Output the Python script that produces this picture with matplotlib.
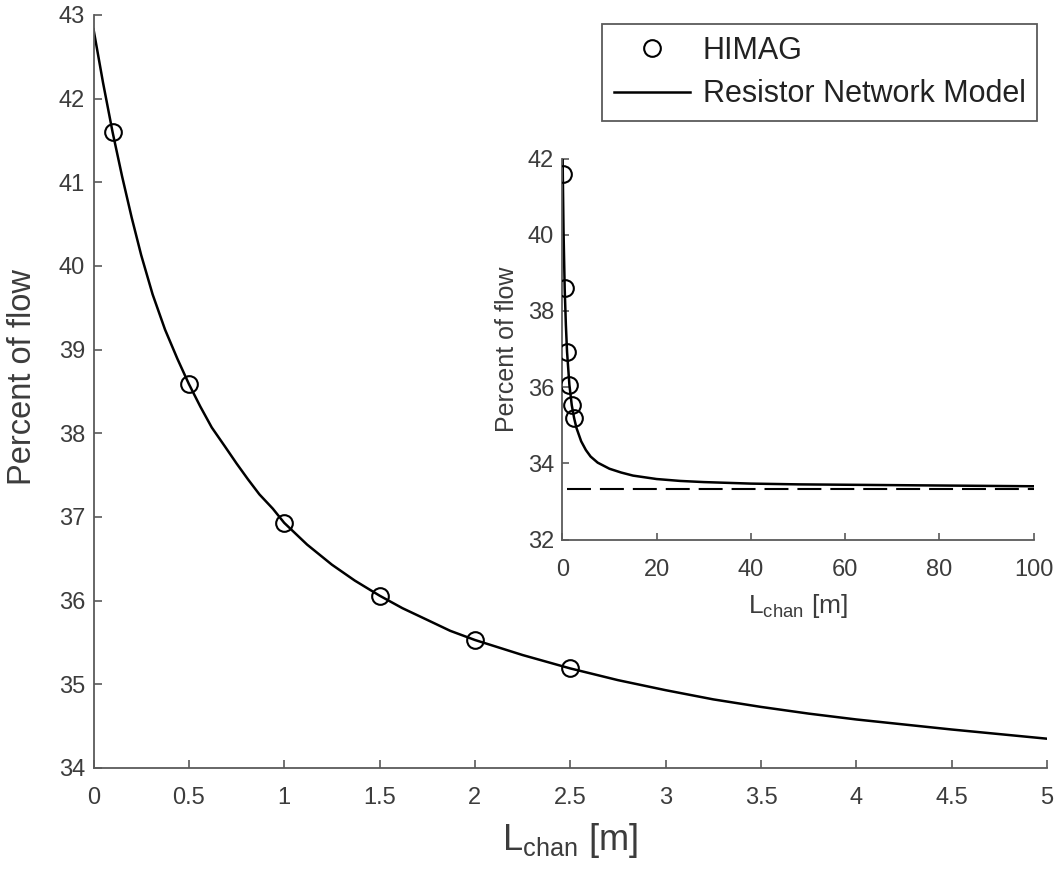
import matplotlib
matplotlib.use("Agg")
import matplotlib.pyplot as plt

plt.rcParams['font.family'] = ['Liberation Sans', 'DejaVu Sans']

# HIMAG simulation results
himag_len = [0.1, 0.5, 1.0, 1.5, 2.0, 2.5]
himag_pct = [41.60, 38.59, 36.93, 36.06, 35.53, 35.19]

# Resistor network model, short channels
model_len = [0.0, 0.05, 0.1, 0.15, 0.2, 0.25, 0.31, 0.375, 0.44, 0.5, 0.56, 0.62, 0.69, 0.75,
             0.81, 0.87, 0.94, 1.0, 1.12, 1.25, 1.37, 1.5, 1.62, 1.75, 1.87, 2.0, 2.25, 2.5,
             2.75, 3.0, 3.25, 3.5, 3.75, 4.0, 4.5, 5.0]
model_pct = [42.83, 42.19, 41.60, 41.07, 40.58, 40.13, 39.66, 39.24, 38.89, 38.59, 38.32,
             38.07, 37.84, 37.64, 37.45, 37.27, 37.10, 36.93, 36.67, 36.43, 36.24, 36.06,
             35.91, 35.77, 35.64, 35.53, 35.35, 35.19, 35.05, 34.93, 34.82, 34.73, 34.65,
             34.58, 34.46, 34.35]

# Resistor network model, long channels
long_len = [0.0, 0.1, 0.25, 0.5, 0.75, 1.0, 1.5, 2.0, 2.5, 3.0, 4.0, 5.0, 6.0, 7.5, 10.0,
            12.5, 15.0, 20.0, 25.0, 30.0, 40.0, 50.0, 60.0, 70.0, 80.0, 90.0, 100.0]
long_pct = [42.83, 41.60, 40.13, 38.59, 37.64, 36.93, 36.06, 35.53, 35.19, 34.93, 34.58,
            34.35, 34.18, 34.02, 33.86, 33.76, 33.68, 33.59, 33.54, 33.51, 33.47, 33.45,
            33.44, 33.43, 33.42, 33.41, 33.40]

# Limiting value for an infinitely long channel
limit_pct = 100.0 / 3.0

main_xticks = [0, 0.5, 1, 1.5, 2, 2.5, 3, 3.5, 4, 4.5, 5]
main_xticklabels = ['0', '0.5', '1', '1.5', '2', '2.5', '3', '3.5', '4', '4.5', '5']
main_yticks = [34, 35, 36, 37, 38, 39, 40, 41, 42, 43]
inset_xticks = [0, 20, 40, 60, 80, 100]
inset_yticks = [32, 34, 36, 38, 40, 42]

axis_color = '#5a5a5a'
label_color = '#3c3c3c'

fig = plt.figure(figsize=(10.59, 8.76), dpi=100)
fig.patch.set_facecolor('white')


def style_axes(ax, tick_size, tick_len, xpad):
    for side in ('top', 'right'):
        ax.spines[side].set_visible(False)
    for side in ('left', 'bottom'):
        ax.spines[side].set_color(axis_color)
        ax.spines[side].set_linewidth(1.3)
    ax.tick_params(direction='in', length=tick_len, width=1.2, colors=axis_color,
                   labelcolor=label_color, labelsize=tick_size, pad=6)
    ax.tick_params(axis='x', pad=xpad)


# Main axes
ax = fig.add_axes([0.0883, 0.1233, 0.9004, 0.8596])
ax.plot(model_len, model_pct, color='black', lw=1.8, label='Resistor Network Model', zorder=2)
ax.plot(himag_len, himag_pct, linestyle='none', marker='o', markersize=12,
        markerfacecolor='none', markeredgecolor='black', markeredgewidth=1.5,
        label='HIMAG', zorder=3)
ax.set_xlim(0, 5)
ax.set_ylim(34, 43)
ax.set_xticks(main_xticks)
ax.set_xticklabels(main_xticklabels)
ax.set_yticks(main_yticks)
style_axes(ax, 17, 6, 14)
ax.set_xlabel(r'L$_{\mathregular{chan}}$ [m]', fontsize=26, color=label_color, labelpad=8)
ax.set_ylabel('Percent of flow', fontsize=23.5, color=label_color)
ax.yaxis.set_label_coords(-0.058, 0.519)

handles, labels = ax.get_legend_handles_labels()
leg = ax.legend([handles[1], handles[0]], [labels[1], labels[0]],
                loc='upper right', bbox_to_anchor=(0.9895, 0.988), borderaxespad=0,
                fontsize=22, fancybox=False, framealpha=1, edgecolor=axis_color,
                handlelength=2.5, handletextpad=0.4, borderpad=0.38, labelspacing=0.45)
leg.get_frame().set_linewidth(1.3)
for t in leg.get_texts():
    t.set_color('#222222')

# Inset with the long-channel behaviour
ins = fig.add_axes([0.531, 0.384, 0.445, 0.435])
ins.set_facecolor('white')
ins.plot(long_len, long_pct, color='black', lw=1.8, zorder=2)
ins.plot(himag_len, himag_pct, linestyle='none', marker='o', markersize=12,
         markerfacecolor='none', markeredgecolor='black', markeredgewidth=1.5, zorder=3)
ins.axhline(limit_pct, xmin=0.01, xmax=1.0, color='black', lw=1.5,
            linestyle=(0, (11.5, 4.3)), zorder=1)
ins.set_xlim(0, 100)
ins.set_ylim(32, 42)
ins.set_xticks(inset_xticks)
ins.set_yticks(inset_yticks)
style_axes(ins, 17, 5, 14)
ins.set_xlabel(r'L$_{\mathregular{chan}}$ [m]', fontsize=19, color=label_color, labelpad=8)
ins.set_ylabel('Percent of flow', fontsize=18, color=label_color, labelpad=6)

fig.savefig('out.png', dpi=100, facecolor='white')
